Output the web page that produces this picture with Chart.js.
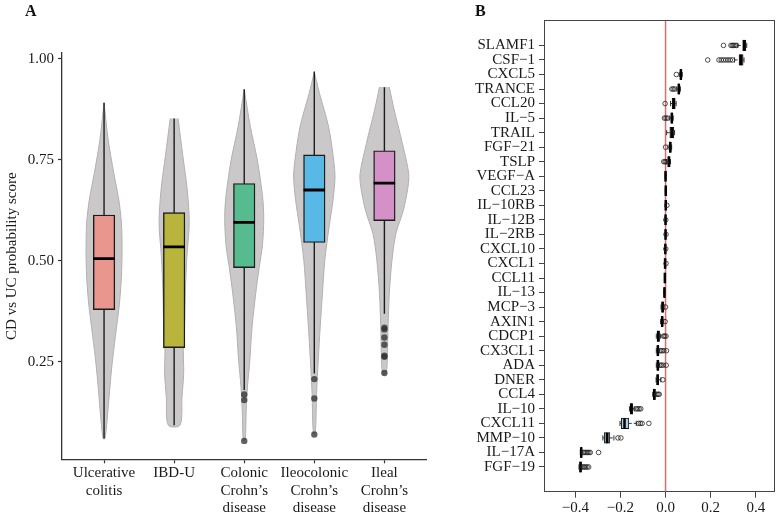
<!DOCTYPE html>
<html><head><meta charset="utf-8">
<script src="https://cdn.jsdelivr.net/npm/chart.js@4.4.1/dist/chart.umd.min.js"></script>
<style>
html,body{margin:0;padding:0;background:#fff;width:782px;height:516px;overflow:hidden;}
#wrap{position:relative;width:782px;height:516px;}
canvas{position:absolute;top:0;}
#ca{left:0;} #cb{left:440px;}
.plabel{position:absolute;font-family:'Liberation Serif','DejaVu Serif',serif;font-weight:bold;font-size:16px;color:#111;line-height:16px;}
</style></head><body>
<div id="wrap">
<canvas id="ca" width="440" height="516"></canvas>
<canvas id="cb" width="342" height="516"></canvas>
<div class="plabel" style="left:25px;top:3px">A</div>
<div class="plabel" style="left:475px;top:3px">B</div>
</div>
<script>
// ---------- Panel A data ----------
const groups = [["Ulcerative","colitis"],["IBD-U"],["Colonic","Crohn’s","disease"],["Ileocolonic","Crohn’s","disease"],["Ileal","Crohn’s","disease"]];
const yTicksA = [0.25, 0.50, 0.75, 1.00];
const whiskLow = [0.060, 0.093, 0.180, 0.221, 0.369];
const boxQ1   = [0.379, 0.285, 0.483, 0.545, 0.599];
const boxMed  = [0.505, 0.534, 0.595, 0.675, 0.692];
const boxQ3   = [0.613, 0.619, 0.691, 0.762, 0.772];
const whiskHigh = [0.891, 0.852, 0.924, 0.968, 0.929];
const outliersA = [[], [], [0.169,0.155,0.054], [0.207,0.159,0.070], [0.334,0.330,0.310,0.292,0.265,0.262,0.222]];
const violinY = [
  [0.891,0.798,0.716,0.650,0.593,0.526,0.460,0.395,0.328,0.262,0.197,0.130,0.060],
  [0.852,0.757,0.675,0.593,0.510,0.427,0.345,0.278,0.221,0.163,0.093],
  [0.924,0.831,0.749,0.666,0.625,0.584,0.534,0.485,0.419,0.336,0.254,0.188,0.130,0.056],
  [0.967,0.914,0.831,0.749,0.707,0.650,0.584,0.501,0.419,0.336,0.254,0.171,0.072],
  [0.930,0.873,0.790,0.716,0.683,0.625,0.567,0.501,0.419,0.336,0.221]
];
const violinDensity = [
  [0.000,0.060,0.140,0.211,0.248,0.257,0.248,0.220,0.173,0.126,0.088,0.056,0.014],
  [0.056,0.126,0.187,0.215,0.182,0.161,0.150,0.131,0.136,0.112,0.084],
  [0.000,0.088,0.187,0.257,0.276,0.276,0.257,0.215,0.164,0.112,0.080,0.046,0.028,0.014],
  [0.000,0.074,0.204,0.276,0.295,0.267,0.211,0.150,0.116,0.084,0.056,0.032,0.014],
  [0.070,0.140,0.257,0.347,0.337,0.271,0.164,0.108,0.070,0.052,0.028]
];

// ---------- Panel B data ----------
const proteins = ['SLAMF1','CSF−1','CXCL5','TRANCE','CCL20','IL−5','TRAIL','FGF−21','TSLP','VEGF−A','CCL23','IL−10RB','IL−12B','IL−2RB','CXCL10','CXCL1','CCL11','IL−13','MCP−3','AXIN1','CDCP1','CX3CL1','ADA','DNER','CCL4','IL−10','CXCL11','MMP−10','IL−17A','FGF−19'];
const loB  = [0.320,0.306,0.061,0.050,0.022,0.019,0.005,0.011,0.004,-0.002,-0.001,-0.001,-0.002,-0.002,-0.003,-0.004,-0.005,-0.007,-0.020,-0.022,-0.041,-0.041,-0.041,-0.042,-0.057,-0.160,-0.202,-0.278,-0.378,-0.384];
const q1B  = [0.342,0.326,0.065,0.055,0.029,0.024,0.019,0.016,0.010,-0.001,0.000,0.000,-0.001,-0.001,-0.002,-0.003,-0.004,-0.006,-0.017,-0.019,-0.038,-0.038,-0.038,-0.039,-0.054,-0.157,-0.196,-0.272,-0.376,-0.381];
const medB = [0.349,0.334,0.068,0.059,0.036,0.028,0.028,0.021,0.015,0.000,0.001,0.001,0.000,0.000,-0.001,-0.002,-0.003,-0.005,-0.013,-0.015,-0.032,-0.034,-0.034,-0.035,-0.050,-0.152,-0.182,-0.259,-0.374,-0.377];
const q3B  = [0.356,0.344,0.072,0.063,0.043,0.032,0.037,0.025,0.020,0.001,0.002,0.002,0.001,0.001,0.000,-0.001,-0.002,-0.004,-0.009,-0.011,-0.027,-0.030,-0.030,-0.031,-0.045,-0.146,-0.163,-0.247,-0.371,-0.373];
const hiB  = [0.360,0.348,0.074,0.066,0.047,0.034,0.040,0.027,0.022,0.002,0.003,0.003,0.002,0.002,0.001,0.000,-0.001,-0.003,-0.006,-0.008,-0.022,-0.026,-0.026,-0.021,-0.042,-0.139,-0.130,-0.229,-0.367,-0.370];
const outB = [
  [0.257,0.290,0.296,0.302,0.308,0.314],
  [0.187,0.237,0.247,0.257,0.267,0.277,0.287,0.297],
  [0.048],[0.028,0.034,0.041],[-0.002],[-0.005,0.002,0.009],[],[0.000],[-0.008,-0.002,0.003],
  [],[],[0.006],[0.001],[0.002],[0.001],[0.002],[],[],
  [0.000],[-0.002],[-0.009,-0.004,0.002],[-0.022,-0.016,-0.008,0.004],[-0.024,-0.018,-0.010,0.003],[-0.012],
  [-0.039,-0.033,-0.028],[-0.131,-0.124,-0.117,-0.110],[-0.120,-0.112,-0.104,-0.074],[-0.211,-0.198],
  [-0.364,-0.358,-0.352,-0.346,-0.340,-0.334,-0.297],[-0.367,-0.361,-0.355,-0.348,-0.341]
];
const xTicksB = [-0.4,-0.2,0.0,0.2,0.4];

// ---------- styles ----------
const F = "'Liberation Serif','DejaVu Serif',serif";
const boxColorsA = ['#e9968f','#b9b53c','#56bc90','#58b8e6','#d491c8'];
const boxColorsB = ['#8e5b45','#8e5b45','#2a1414','#3a1d14','#8e5b45','#2a1414','#8e5b45','#2a1414','#2a1414',
  '#4a1a1a','#4a1a1a','#4a1a1a','#4a1a1a','#4a1a1a','#4a1a1a','#4a1a1a','#4a1a1a','#4a1a1a',
  '#2a1414','#2a1414','#2a1414','#2a1414','#2a1414','#2a1414','#1a1a1a','#1a1a1a','#a9cde2','#87a8bb','#1a1a1a','#1a1a1a'];

// ---------- Chart A ----------
const dsA = [];
groups.forEach((g,i)=>{
  const ys = violinY[i], ws = violinDensity[i];
  const left = ys.map((y,k)=>({x:i-ws[k], y:y}));
  const right = ys.map((y,k)=>({x:i+ws[k], y:y})).reverse();
  let pts = left.concat(right);
  pts = pts.filter((p,k)=>k===0 || p.x!==pts[k-1].x || p.y!==pts[k-1].y);
  dsA.push({type:'line', data:pts, fill:'shape', backgroundColor:'#cac8c8', borderColor:'#b2b0b0',
    borderWidth:1, pointRadius:0, tension:0.3, order:5});
});
const whA = [];
groups.forEach((g,i)=>{ whA.push({x:i,y:whiskLow[i]},{x:i,y:whiskHigh[i]},{x:null,y:null}); });
dsA.push({type:'line', data:whA, borderColor:'#1c1c1c', borderWidth:1.4, pointRadius:0, fill:false, spanGaps:false, order:4});
dsA.push({type:'bar', data:groups.map((g,i)=>({x:i, y:[boxQ1[i], boxQ3[i]]})), backgroundColor:boxColorsA,
  borderColor:'#1c1c1c', borderWidth:1.4, borderSkipped:false, barThickness:21.5, grouped:false, order:3});
dsA.push({type:'scatter', data:groups.map((g,i)=>({x:i, y:boxMed[i]})), pointStyle:'line', pointRadius:10.75,
  pointBorderWidth:2.8, pointBorderColor:'#000', order:2});
const outPtsA = [];
outliersA.forEach((arr,i)=>arr.forEach(v=>outPtsA.push({x:i,y:v})));
dsA.push({type:'scatter', data:outPtsA, pointRadius:3.2, pointBackgroundColor:'rgba(45,45,45,0.75)', pointBorderWidth:0, order:1});

new Chart(document.getElementById('ca'), {
  type:'line',
  data:{datasets:dsA},
  options:{
    responsive:false, animation:false, events:[],
    layout:{padding:{left:0, top:53, right:7, bottom:0}},
    plugins:{legend:{display:false}, tooltip:{enabled:false}},
    scales:{
      x:{type:'linear', min:-0.6, max:4.6, offset:false,
        afterBuildTicks:s=>{ s.ticks = groups.map((g,i)=>({value:i})); },
        afterFit:s=>{ s.height = 56.7; },
        ticks:{autoSkip:false, maxRotation:0, minRotation:0, padding:1, color:'#1a1a1a',
          font:{family:F, size:15, lineHeight:1.18}, callback:(v)=>groups[v]},
        grid:{display:true, offset:false, drawOnChartArea:false, tickLength:4, tickColor:'#333', tickWidth:1.2},
        border:{display:true, color:'#333', width:1.3}
      },
      y:{type:'linear', min:0.0085, max:1.014,
        afterBuildTicks:s=>{ s.ticks = yTicksA.map(v=>({value:v})); },
        afterFit:s=>{ s.width = 62; },
        ticks:{padding:4, color:'#1a1a1a', font:{family:F, size:15}, callback:(v)=>Number(v).toFixed(2)},
        grid:{display:true, offset:false, drawOnChartArea:false, tickLength:4, tickColor:'#333', tickWidth:1.2},
        border:{display:true, color:'#333', width:1.3},
        title:{display:true, text:'CD vs UC probability score', color:'#1a1a1a', font:{family:F, size:15}, padding:{top:3,bottom:0}}
      }
    }
  }
});

// ---------- Chart B ----------
const dsB = [];
dsB.push({type:'line', data:[{x:0,y:-0.7},{x:0,y:31.7}], borderColor:'#e06a6c', borderWidth:1.5, pointRadius:0, fill:false, order:6});
const whB = [];
proteins.forEach((p,i)=>{
  const r=i+1;
  whB.push({x:loB[i],y:r},{x:q1B[i],y:r},{x:null,y:null},{x:q3B[i],y:r},{x:hiB[i],y:r},{x:null,y:null});
});
dsB.push({type:'line', data:whB, borderColor:'#222', borderWidth:0.9, borderDash:[3,2], pointRadius:0, fill:false, spanGaps:false, order:5});
const stB = [];
proteins.forEach((p,i)=>{ stB.push({x:loB[i],y:i+1},{x:hiB[i],y:i+1}); });
dsB.push({type:'scatter', data:stB, pointStyle:'line', pointRotation:90, pointRadius:2.6, pointBorderWidth:0.9, pointBorderColor:'#222', order:4});
dsB.push({type:'bar', indexAxis:'y', data:proteins.map((p,i)=>({y:i+1, x:[q1B[i], q3B[i]]})), backgroundColor:boxColorsB,
  borderColor:'#111', borderWidth:0.9, borderSkipped:false, barThickness:10.5, grouped:false, order:3});
dsB.push({type:'scatter', data:proteins.map((p,i)=>({x:medB[i], y:i+1})), pointStyle:'line', pointRotation:90, pointRadius:5.25,
  pointBorderWidth:2.5, pointBorderColor:'#000', order:2});
const outPtsB = [];
outB.forEach((arr,i)=>arr.forEach(v=>outPtsB.push({x:v, y:i+1})));
dsB.push({type:'scatter', data:outPtsB, pointRadius:2.3, pointBackgroundColor:'rgba(0,0,0,0)', pointBorderColor:'#222', pointBorderWidth:0.8, order:1});

new Chart(document.getElementById('cb'), {
  type:'line',
  data:{datasets:dsB},
  options:{
    responsive:false, animation:false, events:[],
    layout:{padding:{left:0, top:20.7, right:5, bottom:0}},
    plugins:{legend:{display:false}, tooltip:{enabled:false}},
    scales:{
      x:{type:'linear', min:-0.539, max:0.482, offset:false,
        afterBuildTicks:s=>{ s.ticks = xTicksB.map(v=>({value:v})); },
        afterFit:s=>{ s.height = 24.3; },
        ticks:{autoSkip:false, maxRotation:0, padding:1, color:'#1a1a1a', font:{family:F, size:15},
          callback:(v)=>(v<-1e-9?'−':'')+Math.abs(v).toFixed(1)},
        grid:{display:true, offset:false, drawOnChartArea:false, tickLength:6, tickColor:'#444', tickWidth:1},
        border:{display:true, color:'#444', width:1}
      },
      y:{type:'linear', min:-0.7, max:31.7, reverse:true, offset:false,
        afterBuildTicks:s=>{ s.ticks = proteins.map((p,i)=>({value:i+1})); },
        afterFit:s=>{ s.width = 104; },
        ticks:{autoSkip:false, padding:4, color:'#1a1a1a', font:{family:F, size:15}, callback:(v)=>proteins[v-1]},
        grid:{display:true, offset:false, drawOnChartArea:false, tickLength:5, tickColor:'#444', tickWidth:1},
        border:{display:true, color:'#444', width:1}
      },
      x2:{type:'linear', position:'top', min:-0.539, max:0.482, display:true, offset:false,
        afterFit:s=>{ s.height = 0; },
        ticks:{display:false}, grid:{display:false, offset:false}, border:{display:true, color:'#444', width:1}
      },
      y2:{type:'linear', position:'right', min:-0.7, max:31.7, display:true, offset:false,
        afterFit:s=>{ s.width = 0; },
        ticks:{display:false}, grid:{display:false, offset:false}, border:{display:true, color:'#444', width:1}
      }
    }
  }
});
</script>
</body></html>
